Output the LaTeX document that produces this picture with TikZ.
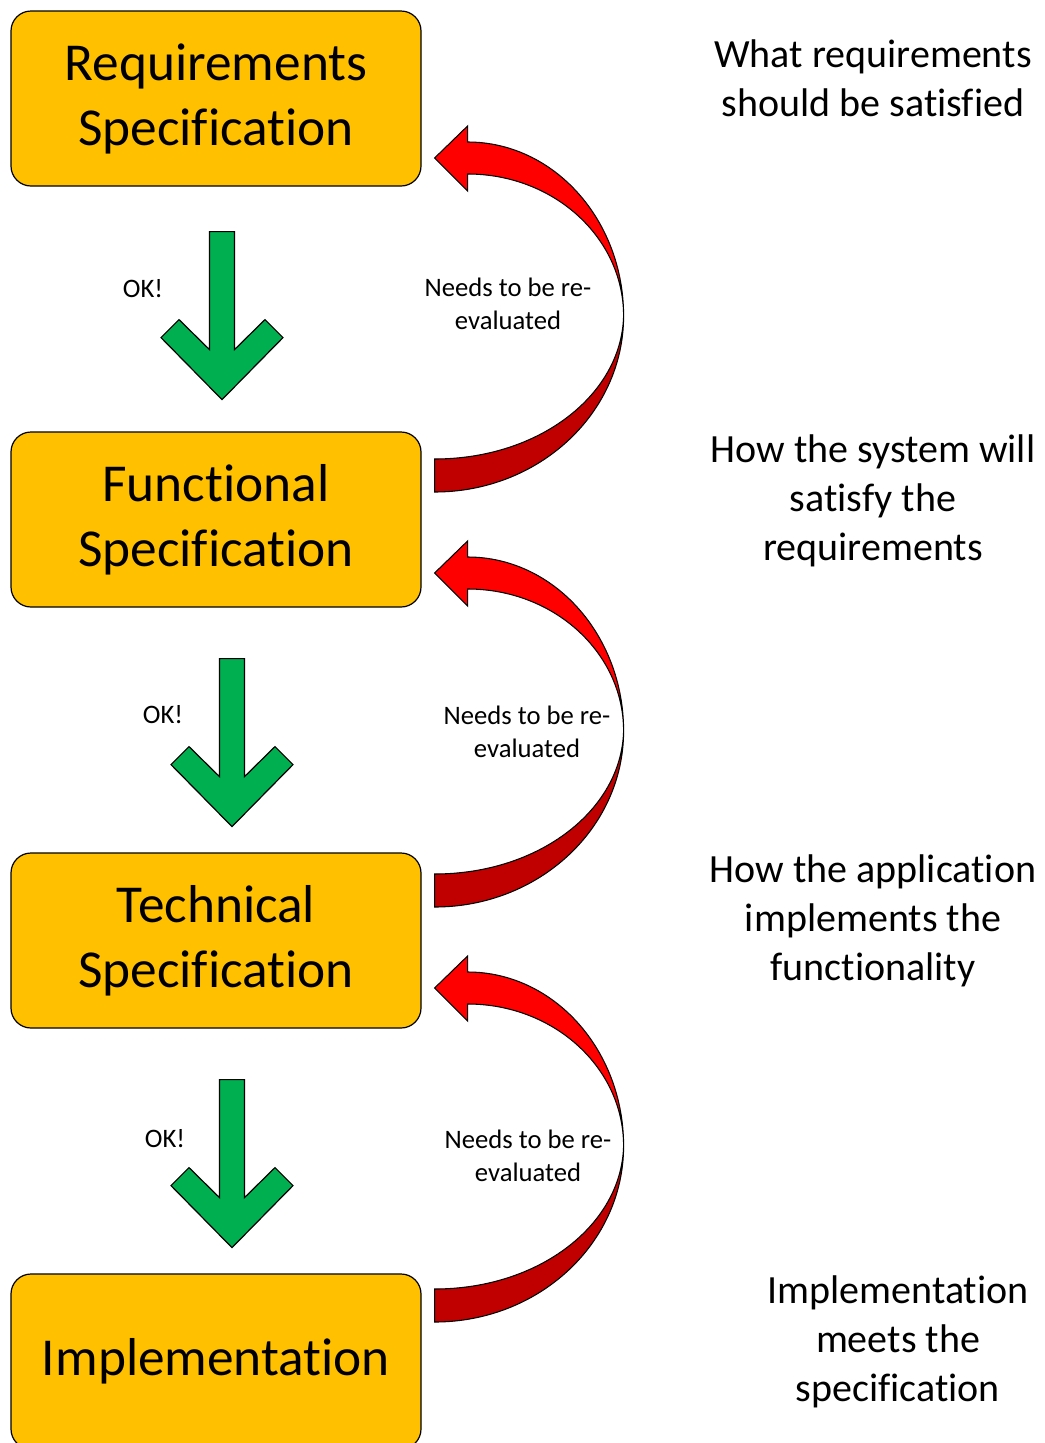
\documentclass[tikz,border=0pt]{standalone}
\usepackage{fontspec}
\setmainfont{Carlito}[Ligatures=NoCommon]
\usetikzlibrary{calc}
\definecolor{boxorange}{HTML}{FFC000}
\definecolor{okgreen}{HTML}{00B050}
\definecolor{redolight}{HTML}{FF0000}
\definecolor{redodark}{HTML}{C00000}
\tikzset{
  specbox/.style={draw, line width=0.9pt, fill=boxorange, rounded corners=15pt,
    minimum width=307.5pt, minimum height=131.25pt, align=center,
    font=\fontsize{40}{48.8}\selectfont},
  note/.style={align=center, font=\fontsize{30}{36.6}\selectfont},
  arrowlabel/.style={align=center, font=\fontsize{20}{24.6}\selectfont},
  okdown/.pic={
    \draw[fill=okgreen, line width=0.9pt] (12.5,0) -- (12.5,118) -- (43,88) -- (61,106)
      -- (0,168) -- (-61,106) -- (-43,88) -- (-12.5,118) -- (-12.5,0) -- cycle;
  },
  redo/.pic={
    % back half of the band
    \draw[fill=redodark, line width=0.8pt] (189,158)
      .. controls (189,255.2) and (104.4,334) .. (0,334) -- (0,301)
      .. controls (104.4,301) and (187,237) .. (189,158) -- cycle;
    % front half with the head
    \draw[fill=redolight, line width=0.8pt] (0,0) -- (33,-32) -- (33,-16)
      .. controls (119.2,-16) and (189,61.9) .. (189,158)
      .. controls (189,79.6) and (119.2,16) .. (33,16) -- (33,33) -- cycle;
  }
}
\begin{document}
\begin{tikzpicture}[x=0.75pt, y=-0.75pt]
    \useasboundingbox (0,0) rectangle (1045,1443);
    \node[specbox] (req) at (216,98.5) {Requirements\\Specification};
    \node[specbox] (func) at (216,519.5) {Functional\\Specification};
    \node[specbox] (tech) at (216,940.5) {Technical\\Specification};
    \node[specbox] (impl) at (216,1361.5) {Implementation};
    \pic at ($(req.south)+(6,45)$) {okdown};
    \pic at ($(func.south)+(16,51)$) {okdown};
    \pic at ($(tech.south)+(16,51)$) {okdown};
    \pic at ($(req.east)+(13,59.5)$) {redo};
    \pic at ($(func.east)+(13,53.5)$) {redo};
    \pic at ($(tech.east)+(13,47.5)$) {redo};
    \node[arrowlabel] (ok1) at (143,289) {OK!};
    \node[arrowlabel] (ok2) at (163,715) {OK!};
    \node[arrowlabel] (ok3) at (165,1139) {OK!};
    \node[arrowlabel] (again1) at (508,304) {Needs to be re-\\evaluated};
    \node[arrowlabel] (again2) at (527,732) {Needs to be re-\\evaluated};
    \node[arrowlabel] (again3) at (528,1156) {Needs to be re-\\evaluated};
    \node[note] (what) at (873,78.5) {What requirements\\should be satisfied};
    \node[note] (how) at (873,501) {How the system will\\satisfy the\\requirements};
    \node[note] (app) at (873,921) {How the application\\implements the\\functionality};
    \node[note] (meets) at (898,1342) {Implementation\\meets the\\specification};
\end{tikzpicture}
\end{document}
